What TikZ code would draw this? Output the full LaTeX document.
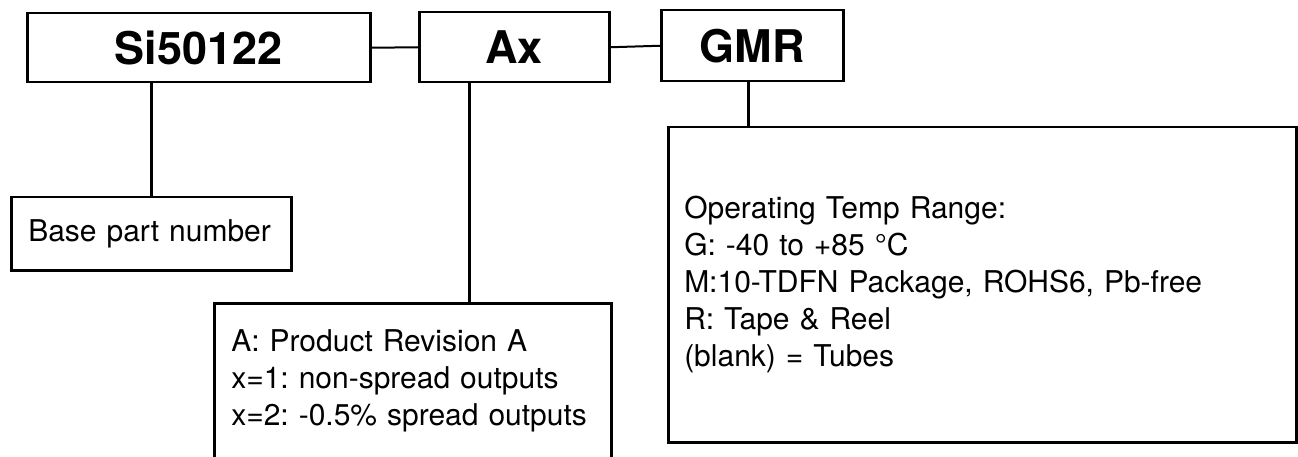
\documentclass[tikz,border=0pt]{standalone}
\usepackage{fontspec}
\setmainfont{TeX Gyre Heros}
\usetikzlibrary{positioning}
\frenchspacing

\begin{document}
\begin{tikzpicture}[x=1pt, y=-1pt,
    field/.style={draw, rectangle, line width=2.5pt, anchor=north west, inner sep=0pt,
                  font=\fontsize{45}{54}\selectfont\bfseries},
    info/.style={draw, rectangle, line width=2.5pt, anchor=north west, align=left,
                 inner xsep=17pt, inner ysep=0pt, font=\fontsize{30}{37}\selectfont},
    link/.style={line width=2pt},
    stem/.style={line width=3pt}]

    \useasboundingbox (0,0) rectangle (1298,457);
    \clip (0,0) rectangle (1298,457);

    % === Part number fields ===
    \node[field, minimum width=343pt, minimum height=69pt] (Part) at (26,12) {Si50122};
    \node[field, minimum width=190pt, minimum height=70pt] (Rev) at (418,11) {Ax};
    \node[field, minimum width=182pt, minimum height=71pt] (Opt) at (660,9) {GMR};
    \draw[link] (Part.east) -- (Rev.west);
    \draw[link] (Rev.east) -- (Opt.west);

    % === Descriptions ===
    \node[info, text width=246pt, minimum height=73pt] (PartInfo) at (10,196) {Base part number};
    \node[info, text width=363pt, minimum height=156pt] (RevInfo) at (213,302)
        {A: Product Revision A\\x=1: non-spread outputs\\x=2: -0.5\% spread outputs};
    \node[info, text width=596pt, inner xsep=16pt, minimum height=315pt] (OptInfo) at (667,126)
        {Operating Temp Range:\\G: -40 to +85 °C\\M:10-TDFN Package, ROHS6, Pb-free\\R: Tape \& Reel\\(blank) = Tubes};

    % stems
    \draw[stem] (PartInfo.north) -- (PartInfo.north |- Part.south);
    \draw[stem] ([xshift=51pt]Rev.south west) -- ([xshift=51pt]Rev.south west |- RevInfo.north);
    \draw[stem] ([xshift=-4pt]Opt.south) -- ([xshift=-4pt]Opt.south |- OptInfo.north);

\end{tikzpicture}
\end{document}
